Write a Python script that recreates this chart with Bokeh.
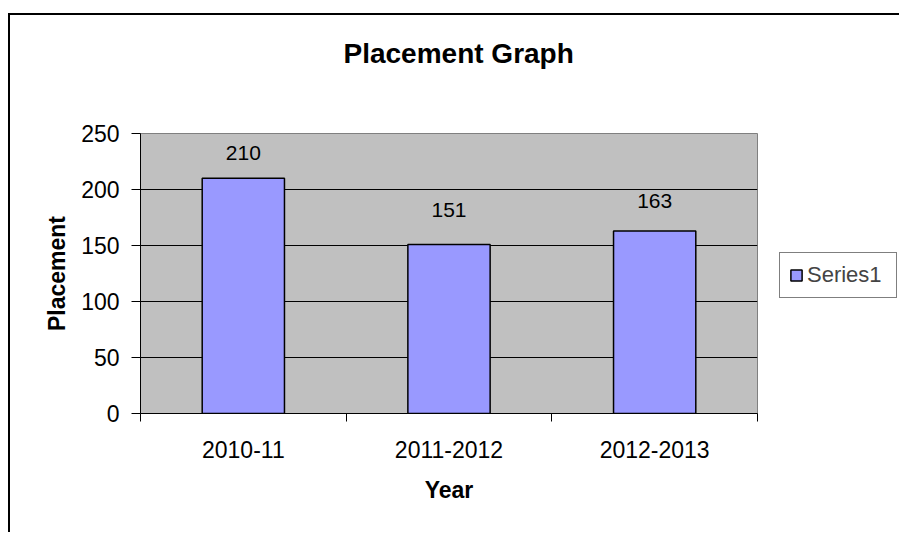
from bokeh.plotting import figure
from bokeh.models import (ColumnDataSource, FixedTicker, LabelSet, Legend, LegendItem, Range1d, Title)
from bokeh.core.properties import value
from bokeh.embed import file_html
from bokeh.resources import INLINE

# Data
categories = ["2010-11", "2011-2012", "2012-2013"]
placements = [210, 151, 163]
y_ticks = [0, 50, 100, 150, 200, 250]
series_name = "Series1"
chart_title = "Placement Graph"
x_title = "Year"
y_title = "Placement"

# label placement (pixels above each bar top), as the source chart places them
label_offsets = [25, 34, 30]

xpos = [i + 0.5 for i in range(len(categories))]
source = ColumnDataSource(dict(x=xpos, y=placements, lbl=[str(v) for v in placements],
                               off=label_offsets))

FONT = "Liberation Sans"

p = figure(output_backend="svg", toolbar_location=None,
           frame_width=617, frame_height=280,
           x_range=Range1d(0, len(categories)), y_range=Range1d(0, 250),
           min_border_left=130, min_border_right=140, min_border_top=118, min_border_bottom=119,
           title=None)
p.margin = (13, 0, 0, 8)
p.styles = {"border-top": "2px solid #000", "border-left": "2px solid #000"}

p.background_fill_color = "#C0C0C0"
p.border_fill_color = "white"
p.outline_line_color = "#808080"
p.outline_line_width = 1

r = p.vbar(x="x", top="y", width=0.4, source=source, fill_color="#9999FF",
           line_color="black", line_width=1.5)

# grid
p.xgrid.visible = False
p.ygrid.ticker = FixedTicker(ticks=y_ticks)
p.ygrid.grid_line_color = "black"
p.ygrid.grid_line_width = 1

# y axis
p.yaxis.ticker = FixedTicker(ticks=y_ticks)
p.yaxis.minor_tick_line_color = None
p.yaxis.major_tick_out = 9
p.yaxis.major_tick_in = 0
p.yaxis.major_label_standoff = 12
p.yaxis.major_label_text_font = FONT
p.yaxis.major_label_text_font_size = "23px"
p.yaxis.major_label_text_color = "black"
p.yaxis.axis_line_color = "black"
p.yaxis.major_tick_line_color = "black"
p.yaxis.axis_label = y_title
p.yaxis.axis_label_text_font = FONT
p.yaxis.axis_label_text_font_size = "23px"
p.yaxis.axis_label_text_font_style = "bold"
p.yaxis.axis_label_text_color = "black"
p.yaxis.axis_label_standoff = 8

# x axis
p.xaxis.ticker = FixedTicker(ticks=xpos, minor_ticks=list(range(len(categories) + 1)))
p.xaxis.major_label_overrides = {x: c for x, c in zip(xpos, categories)}
p.xaxis.major_tick_out = 0
p.xaxis.major_tick_in = 0
p.xaxis.minor_tick_out = 8
p.xaxis.minor_tick_in = 0
p.xaxis.minor_tick_line_color = "black"
p.xaxis.axis_line_color = "black"
p.xaxis.major_label_standoff = 19
p.xaxis.major_label_text_font = FONT
p.xaxis.major_label_text_font_size = "23px"
p.xaxis.major_label_text_color = "black"
p.xaxis.axis_label = x_title
p.xaxis.axis_label_text_font = FONT
p.xaxis.axis_label_text_font_size = "23px"
p.xaxis.axis_label_text_font_style = "bold"
p.xaxis.axis_label_text_color = "black"
p.xaxis.axis_label_standoff = 16

# data labels
labels = LabelSet(x="x", y="y", text="lbl", source=source, y_offset="off",
                  text_align="center", text_baseline="middle",
                  text_font=value(FONT), text_font_size="21px", text_color="black")
p.add_layout(labels)

# spacer between frame and title, then title
spacer = Title(text=" ", text_font_size="1px", standoff=57)
p.add_layout(spacer, "above")
t = Title(text=chart_title, align="left", offset=203, standoff=10,
          text_font=FONT, text_font_size="28px", text_font_style="bold", text_color="black")
p.add_layout(t, "above")

# legend
legend = Legend(items=[LegendItem(label=series_name, renderers=[r])], location=(22, 115))
legend.border_line_color = "black"
legend.border_line_width = 1
legend.background_fill_color = "white"
legend.background_fill_alpha = 1
legend.label_text_font = FONT
legend.label_text_font_size = "22px"
legend.glyph_width = 14
legend.glyph_height = 14
legend.padding = 9
legend.margin = 0
legend.label_standoff = 4
legend.label_width = 80
p.add_layout(legend, "right")

open("out.html", "w").write(file_html(p, INLINE))
